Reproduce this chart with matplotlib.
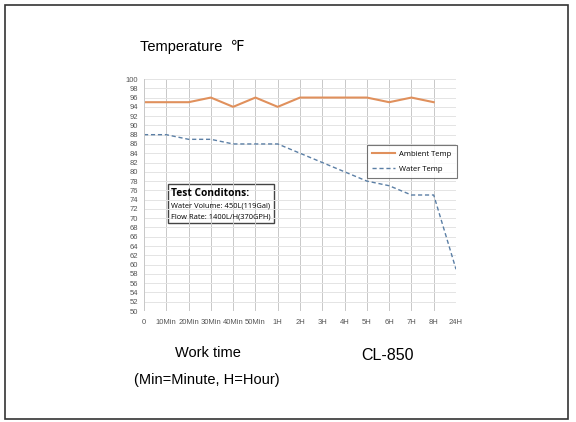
import matplotlib
matplotlib.use("Agg")
import matplotlib.pyplot as plt
from matplotlib.patches import Rectangle

time_labels = ["0", "10Min", "20Min", "30Min", "40Min", "50Min", "1H", "2H",
               "3H", "4H", "5H", "6H", "7H", "8H", "24H"]
ambient_temp = [95, 95, 95, 96, 94, 96, 94, 96, 96, 96, 96, 95, 96, 95]
water_temp = [88, 88, 87, 87, 86, 86, 86, 84, 82, 80, 78, 77, 75, 75, 59]
y_ticks = list(range(50, 101, 2))

plt.rcParams["font.family"] = ["Liberation Sans", "DejaVu Sans"]
box_font = ["Open Sans", "DejaVu Sans"]

fig = plt.figure(figsize=(5.76, 4.22), dpi=100)
# outer frame
fig.patches.append(Rectangle((5 / 576, 3 / 422), 563 / 576, 414 / 422,
                             transform=fig.transFigure, fill=False,
                             edgecolor="#333333", linewidth=1.2))

ax = fig.add_axes([144 / 576, 111 / 422, 312 / 576, 232 / 422])
x = list(range(len(time_labels)))
ax.plot(x[:len(ambient_temp)], ambient_temp, color="#E0905C", linewidth=1.5,
        label="Ambient Temp")
ax.plot(x, water_temp, color="#5B7FA5", linewidth=1.0, linestyle=(0, (3, 2)),
        label="Water Temp")

ax.set_xlim(0, len(time_labels) - 1)
ax.set_ylim(50, 100)
ax.set_xticks(x)
ax.set_xticklabels(time_labels)
ax.set_yticks(y_ticks)
ax.tick_params(length=0, labelsize=5.5, labelcolor="#555555", pad=4)
ax.tick_params(axis="x", pad=6)
ax.grid(axis="y", color="#e4e4e4", linewidth=0.7)
ax.grid(axis="x", color="#c8c8c8", linewidth=0.7)
for s in ax.spines.values():
    s.set_visible(False)
ax.axvline(0, color="#c8c8c8", linewidth=0.7)

leg = ax.legend(loc="upper left", bbox_to_anchor=(223 / 312, 166 / 232),
                borderaxespad=0, frameon=True, fancybox=False,
                edgecolor="#555555", handlelength=3.0, handletextpad=0.5,
                borderpad=0.7, labelspacing=1.0,
                prop={"family": box_font, "size": 5.5})
leg.get_frame().set_linewidth(0.8)

# test conditions box
ax.add_patch(Rectangle((24 / 312, 88 / 232), 106 / 312, 39 / 232,
                       transform=ax.transAxes, fill=False,
                       edgecolor="#444444", linewidth=1.0))
ax.text(27 / 312, 118 / 232, "Test Conditons:", transform=ax.transAxes,
        fontsize=7.3, fontweight="bold", family=box_font,
        va="center", ha="left")
ax.text(27 / 312, 105 / 232, "Water Volume: 450L(119Gal)",
        transform=ax.transAxes, fontsize=5.4, family=box_font,
        va="center", ha="left")
ax.text(27 / 312, 94 / 232, "Flow Rate: 1400L/H(370GPH)",
        transform=ax.transAxes, fontsize=5.4, family=box_font,
        va="center", ha="left")

fig.text(140 / 576, 1 - 47 / 422, "Temperature  \u2109", fontsize=10.5,
         va="center", ha="left")
fig.text(208 / 576, 1 - 353 / 422, "Work time", fontsize=10.5,
         va="center", ha="center")
fig.text(207 / 576, 1 - 380 / 422, "(Min=Minute, H=Hour)", fontsize=10.5,
         va="center", ha="center")
fig.text(387 / 576, 1 - 356 / 422, "CL-850", fontsize=11.5,
         va="center", ha="center")

fig.savefig("out.png", dpi=100)
